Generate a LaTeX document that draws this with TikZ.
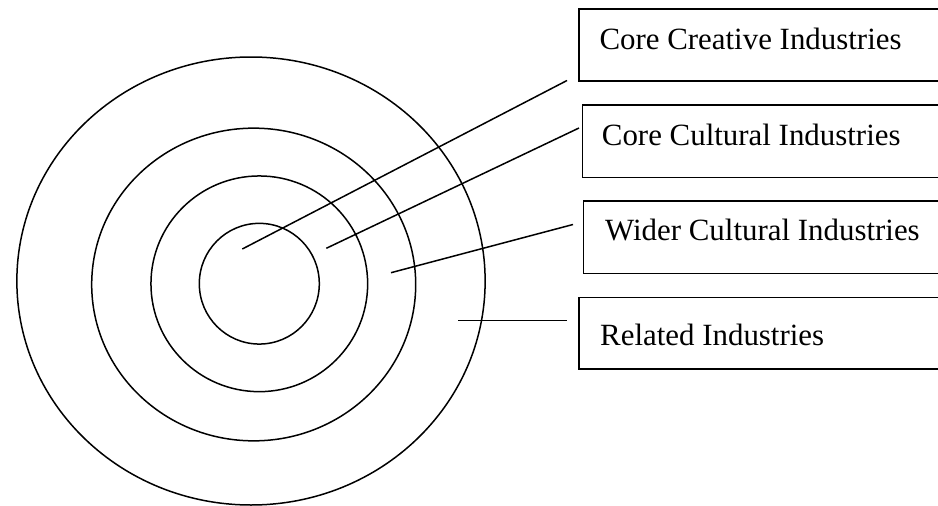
\documentclass[tikz,border=0pt]{standalone}
\usepackage{fontspec}
\setmainfont{Liberation Serif}
\usetikzlibrary{shapes.geometric,calc}
\begin{document}
\begin{tikzpicture}[x=1pt,y=-1pt,
  ring/.style={draw,ellipse,inner sep=0pt,outer sep=0pt,line width=1.5pt},
  labelbox/.style={draw,rectangle,anchor=north west,inner sep=0pt,line width=1.5pt,minimum width=400pt},
  labeltext/.style={anchor=base west,inner sep=0pt,font=\fontsize{30.9}{36}\selectfont},
  leader/.style={line width=1.5pt}]
\useasboundingbox (0,0) rectangle (938,506);
% rings
\node[ring,minimum width=468.3pt,minimum height=448pt] (r4) at (251,281) {};
\node[ring,minimum width=324pt,minimum height=312.7pt] (r3) at (253.7,284.5) {};
\node[ring,minimum width=216.7pt,minimum height=215.7pt] (r2) at (259.3,283.8) {};
\node[ring,minimum width=120pt,minimum height=120.7pt] (r1) at (259.3,283.7) {};
% boxes
\node[labelbox,minimum height=71.7pt] (b1) at (578.3,8.3) {};
\node[labelbox,minimum height=72.4pt] (b2) at (581.7,104.3) {};
\node[labelbox,minimum height=72.7pt] (b3) at (582.7,200) {};
\node[labelbox,minimum height=71.6pt] (b4) at (578.3,296.7) {};
% texts
\node[labeltext] (t1) at (599.3,49.3) {Core Creative Industries};
\node[labeltext] (t2) at (601.7,145) {Core Cultural Industries};
\node[labeltext] (t3) at (605,240) {Wider Cultural Industries};
\node[labeltext] (t4) at (600,345) {Related Industries};
% leader ends
\coordinate (p1) at (242.3,249);
\coordinate (q1) at (567,80.5);
\coordinate (p2) at (326.3,248.3);
\coordinate (q2) at (579,128);
\coordinate (p3) at (391,272.7);
\coordinate (q3) at (573,224.5);
\coordinate (p4) at (458,320.7);
\coordinate (q4) at (566.7,320.7);
\draw[leader] (p1) -- (q1);
\draw[leader] (p2) -- (q2);
\draw[leader] (p3) -- (q3);
\draw[leader] (p4) -- (q4);
\end{tikzpicture}
\end{document}
